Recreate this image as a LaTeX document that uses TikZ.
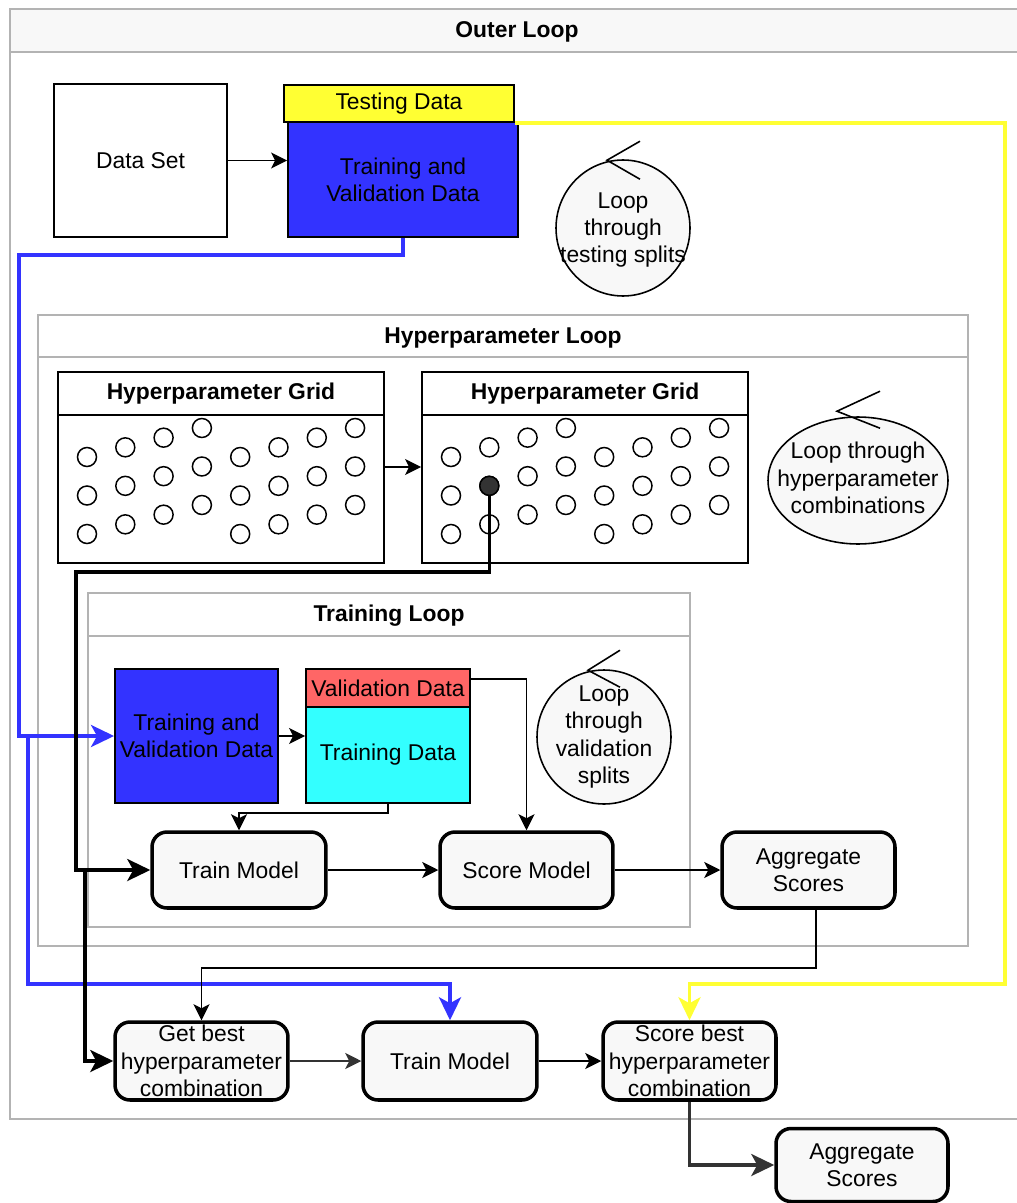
\documentclass[tikz,border=0pt]{standalone}
\usepackage{fontspec}
\setmainfont{Liberation Sans}
\usepackage{tikz}
\usetikzlibrary{arrows.meta,shapes.geometric}

\definecolor{framegray}{RGB}{179,179,179}
\definecolor{boxgray}{RGB}{248,248,248}
\definecolor{dotgray}{RGB}{51,51,51}
\definecolor{setblue}{RGB}{51,51,255}
\definecolor{setyellow}{RGB}{255,255,51}
\definecolor{setred}{RGB}{255,102,102}
\definecolor{setcyan}{RGB}{51,255,255}

\begin{document}
\begin{tikzpicture}[x=0.02cm, y=-0.02cm, font=\fontsize{13}{15.5}\selectfont,
	container/.style={draw=framegray, line width=0.9pt},
	title/.style={font=\fontsize{13}{15.5}\selectfont\bfseries},
	datbox/.style={draw, line width=1.1pt, align=center, inner sep=0pt},
	modelbox/.style={draw, line width=2pt, rounded corners=0.3cm, fill=boxgray, align=center, inner sep=0pt},
	loopnode/.style={ellipse, draw, fill=boxgray, line width=0.9pt, inner sep=0pt},
	dot/.style={circle, draw, line width=0.85pt, minimum size=0.38cm, inner sep=0pt},
	flow/.style={-{Stealth[length=0.32cm,width=0.32cm,inset=0.08cm]}, line width=0.85pt},
	bigflow/.style={-{Stealth[length=0.46cm,width=0.44cm,inset=0.12cm]}, line width=2pt}]
	\useasboundingbox (0,0) rectangle (1017,1203);
	\clip (0,0) rectangle (1017,1203);

	% containers
	\draw[container, fill=white] (10,9) rectangle (1024,1119);
	\draw[container, fill=boxgray] (10,9) rectangle (1024,52);
	\node[title] (outer) at (517,32) {Outer Loop};
	\draw[container, fill=white] (38,315) rectangle (968,946);
	\draw[container] (38,357) -- (968,357);
	\node[title] (hyper) at (503,338) {Hyperparameter Loop};
	\draw[container, fill=white] (88,593) rectangle (690,927);
	\draw[container] (88,636) -- (690,636);
	\node[title] (training) at (389,616) {Training Loop};

	% data split for testing
	\draw
	node[datbox, minimum width=3.46cm, minimum height=3.06cm] (dataset) at (140.5,160.5) {Data Set}
	node[datbox, fill=setyellow, minimum width=4.6cm, minimum height=0.74cm] (testing) at (399,103.5) {Testing Data}
	node[datbox, fill=setblue, minimum width=4.6cm, minimum height=2.3cm] (tvdata) at (403,179.5) {Training and\\Validation Data}
	node[loopnode, minimum width=2.68cm, minimum height=2.72cm] (loopTest) at (623,228) {}
	node[align=center] at (623,230) {Loop\\through\\testing splits};
	\draw[line width=0.9pt] ([shift={(17,-18)}]loopTest.north) -- ([shift={(-16,1)}]loopTest.north) -- ([shift={(17,20)}]loopTest.north);

	% hyperparameter grids
	\draw
	node[datbox, title, minimum width=6.52cm, minimum height=0.86cm] (grid1head) at (221,393.5) {Hyperparameter Grid}
	node[datbox, minimum width=6.52cm, minimum height=2.96cm] (grid1body) at (221,489) {}
	node[datbox, title, minimum width=6.52cm, minimum height=0.86cm] (grid2head) at (585,393.5) {Hyperparameter Grid}
	node[datbox, minimum width=6.52cm, minimum height=2.96cm] (grid2body) at (585,489) {}
	node[loopnode, minimum width=3.6cm, minimum height=2.54cm] (loopHyper) at (858,480.5) {}
	node[align=center] at (858,478) {Loop through\\hyperparameter\\combinations};
	\draw[line width=0.9pt] ([shift={(22,-25)}]loopHyper.north) -- ([shift={(-21,-5)}]loopHyper.north) -- ([shift={(22,12)}]loopHyper.north);
	\foreach \i in {0,...,7} {
		\pgfmathsetmacro\cy{457-9.67*mod(\i,4)}
		\foreach \j in {0,1,2} {
			\node[dot] (ha-\i-\j) at ({87+38.3*\i},{\cy+38.5*\j}) {};
			\node[dot] (hb-\i-\j) at ({451+38.3*\i},{\cy+38.5*\j}) {};
		}
	}
	\node[dot, fill=dotgray] (pick) at (hb-1-1) {};
	\draw[flow] ([yshift=0.44cm]grid1body.east) -- ([yshift=0.44cm]grid2body.west);

	% training loop
	\draw
	node[datbox, fill=setblue, minimum width=3.26cm, minimum height=2.68cm] (tvInner) at (196.5,736) {Training and\\Validation Data}
	node[datbox, fill=setred, minimum width=3.28cm, minimum height=0.76cm] (valData) at (388,688) {Validation Data}
	node[datbox, fill=setcyan, minimum width=3.28cm, minimum height=1.92cm] (trainData) at (388,755) {Training Data}
	node[loopnode, minimum width=2.68cm, minimum height=2.68cm] (loopVal) at (604,737) {}
	node[align=center] at (604,737) {Loop\\through\\validation\\splits}
	node[modelbox, minimum width=3.48cm, minimum height=1.52cm] (trainModel) at (239,870) {Train Model}
	node[modelbox, minimum width=3.46cm, minimum height=1.52cm] (scoreModel) at (526.5,870) {Score Model}
	node[modelbox, minimum width=3.46cm, minimum height=1.52cm] (aggScores) at (808.5,870) {Aggregate\\Scores};
	\draw[line width=0.9pt] ([shift={(16,-19)}]loopVal.north) -- ([shift={(-16,1)}]loopVal.north) -- ([shift={(16,18)}]loopVal.north);

	% final model
	\draw
	node[modelbox, minimum width=3.46cm, minimum height=1.56cm] (getBest) at (201.5,1061) {Get best\\hyperparameter\\combination}
	node[modelbox, minimum width=3.48cm, minimum height=1.56cm] (trainFinal) at (450,1061) {Train Model}
	node[modelbox, minimum width=3.46cm, minimum height=1.56cm] (scoreBest) at (689.5,1061) {Score best\\hyperparameter\\combination}
	node[modelbox, minimum width=3.44cm, minimum height=1.46cm] (aggFinal) at (862,1165) {Aggregate\\Scores};

	% connectors
	\coordinate (yturn) at (1005,984);
	\coordinate (bturn) at (19,255);
	\coordinate (bsplit) at (28,736);
	\coordinate (bdrop) at (450,984);
	\coordinate (kturn) at (76,572);
	\coordinate (ksplit) at (85,870);
	\draw[flow] (dataset.east) -- (dataset.east -| tvdata.west);
	\draw[bigflow, draw=setyellow] (testing.south east) -| (yturn) -| (scoreBest.north);
	\draw[bigflow, draw=setblue] (tvdata.south) |- (bturn) |- (tvInner.west);
	\draw[bigflow, draw=setblue] (bsplit) |- (bdrop) -- (trainFinal.north);
	\draw[bigflow] (pick) |- (kturn) |- (trainModel.west);
	\draw[bigflow] (ksplit) |- (getBest.west);
	\draw[flow] (tvInner.east) -- (tvInner.east -| trainData.west);
	\draw[flow] ([yshift=0.18cm]valData.east) -| (scoreModel.north);
	\draw[flow] (trainData.south) -- ++(0,9) -| (trainModel.north);
	\draw[flow] (trainModel) -- (scoreModel);
	\draw[flow] (scoreModel) -- (aggScores);
	\draw[flow] ([xshift=0.15cm]aggScores.south) -- ++(0,58) -| (getBest.north);
	\draw[flow, draw=dotgray] (getBest) -- (trainFinal);
	\draw[flow] (trainFinal) -- (scoreBest);
	\draw[bigflow, draw=dotgray] (scoreBest.south) |- (aggFinal.west);
\end{tikzpicture}
\end{document}
